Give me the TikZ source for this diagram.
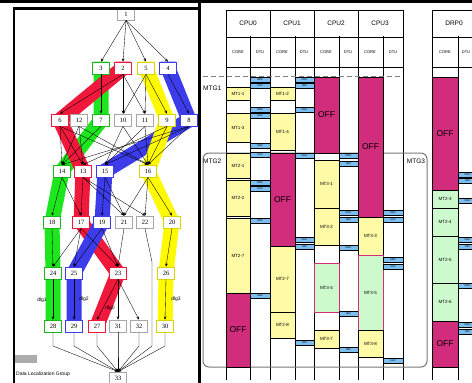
\documentclass[tikz,border=0pt]{standalone}
\usepackage{fontspec}
\setmainfont{Liberation Serif}
\newfontfamily\chartfont{Liberation Sans}
\usetikzlibrary{arrows.meta}

\definecolor{bandgreen}{RGB}{30,230,30}
\definecolor{bandred}{RGB}{240,25,60}
\definecolor{bandblue}{RGB}{60,60,235}
\definecolor{bandyellow}{RGB}{255,250,0}
\definecolor{taskyellow}{RGB}{255,250,165}
\definecolor{offpink}{RGB}{210,45,125}
\definecolor{taskgreen}{RGB}{205,250,205}
\definecolor{dtublue}{RGB}{125,190,240}
\definecolor{framegray}{RGB}{120,120,120}

\pgfdeclarelayer{bands}
\pgfsetlayers{bands,main}

\tikzset{
  gn/.style={draw=gray!70, fill=white, line width=0.7pt, minimum width=17pt,
    minimum height=12pt, inner sep=0pt, font=\fontsize{6.5}{6.5}\selectfont},
  gG/.style={gn, draw=bandgreen!80!black},
  gR/.style={gn, draw=bandred},
  gB/.style={gn, draw=bandblue},
  gY/.style={gn, draw=bandyellow!85!black},
  edge/.style={-{Stealth[length=3.2pt,width=2.6pt]}, line width=0.35pt},
  band/.style={line width=15pt, line join=round},
  lbl/.style={font=\chartfont\fontsize{5}{5}\selectfont, inner sep=0pt},
  blkbase/.style={line width=0.5pt, inner sep=0pt, outer sep=0pt},
  tY/.style={blkbase, draw=black, fill=taskyellow, font=\chartfont\fontsize{4.5}{5}\selectfont},
  tG/.style={blkbase, draw=black, fill=taskgreen, font=\chartfont\fontsize{4.5}{5}\selectfont},
  tGP/.style={blkbase, draw=offpink, line width=0.8pt, fill=taskgreen, font=\chartfont\fontsize{4.5}{5}\selectfont},
  tOff/.style={blkbase, draw=black, fill=offpink, font=\chartfont\fontsize{8.5}{9}\selectfont},
  tD/.style={blkbase, draw=black, fill=dtublue, font=\chartfont\fontsize{2.6}{3}\selectfont},
  hdr/.style={font=\chartfont\fontsize{6.5}{7}\selectfont, inner sep=0pt},
  sub/.style={font=\chartfont\fontsize{4}{4}\selectfont, inner sep=0pt},
  grid/.style={line width=0.5pt, black},
}

% a block of the schedule: name, style, x0, x1, y0, y1, text
\newcommand\blk[7]{\node[#2, minimum width={#4pt-#3pt}, minimum height={#6pt-#5pt}]
  (#1) at ({(#3+#4)/2},{(#5+#6)/2}) {#7};}
% a data-transfer block: name, x0, x1, y0, text
\newcommand\dtu[5]{\blk{#1}{tD}{#2}{#3}{#4}{#4+5.5}{#5}}

\begin{document}
\begin{tikzpicture}[x=1pt,y=-1pt]
\useasboundingbox (0,0) rectangle (472,383);
\begin{scope}
\clip (0,0) rectangle (472,383);

% ---------------- macro-task graph ----------------
\node[gn] (n1) at (126,14) {1};
\node[gG] (n3) at (101,68) {3};
\node[gR] (n2) at (123,68) {2};
\node[gY] (n5) at (146,68) {5};
\node[gB] (n4) at (168,68) {4};
\node[gR] (n6) at (60,120) {6};
\node[gn] (n12) at (79,120) {12};
\node[gG] (n7) at (101,120) {7};
\node[gn] (n10) at (123,120) {10};
\node[gn] (n11) at (145,120) {11};
\node[gY] (n9) at (167,120) {9};
\node[gB] (n8) at (189,120) {8};
\node[gG] (n14) at (62,171) {14};
\node[gR] (n13) at (83,171) {13};
\node[gB] (n15) at (105,171) {15};
\node[gY] (n16) at (148,171) {16};
\node[gG] (n18) at (52,222) {18};
\node[gR] (n17) at (81,222) {17};
\node[gB] (n19) at (102,222) {19};
\node[gn] (n21) at (124,222) {21};
\node[gn] (n22) at (145,222) {22};
\node[gY] (n20) at (172,222) {20};
\node[gG] (n24) at (53,273) {24};
\node[gB] (n25) at (74,273) {25};
\node[gR] (n23) at (118,273) {23};
\node[gY] (n26) at (166,273) {26};
\node[gG] (n28) at (53,326) {28};
\node[gB] (n29) at (74,326) {29};
\node[gR] (n27) at (97,326) {27};
\node[gn] (n31) at (118,326) {31};
\node[gn] (n32) at (139,326) {32};
\node[gY] (n30) at (165,326) {30};
\node[gn] (n33) at (118,378) {33};

% data localization groups
\begin{pgfonlayer}{bands}
\fill[white] (0,0) rectangle (472,383);
\draw[band, bandgreen] (n3.north) -- (n7.center) -- (n14.center) -- (n18.center) -- (n24.center) -- (n28.south);
\draw[band, bandred] (n2.north) -- (n2.center) -- (n6.center) -- (n13.center) -- (n17.center) -- (n23.center) -- (n27.center) -- (n27.south);
\draw[band, bandblue] (n4.north) -- (n4.center) -- (n8.center) -- (n15.center) -- (n19.center) -- (n25.center) -- (n29.south);
\draw[band, bandyellow] (n5.north) -- (n5.center) -- (n9.center) -- (n16.center) -- (n20.center) -- (n26.center) -- (n30.south);
\end{pgfonlayer}

% dependences
\foreach \s/\t in {1/3,1/2,1/5,1/4,
  3/7,2/6,2/10,2/11,5/10,5/11,5/9,4/8,
  6/14,6/13,12/14,12/13,7/14,9/13,8/14,6/16,12/16,10/15,10/16,11/15,11/16,9/16,8/16,8/15,
  14/18,14/17,13/17,13/21,13/22,15/19,15/21,16/21,16/22,16/20,
  18/24,17/24,17/25,17/23,19/25,19/23,21/23,20/26,
  24/28,25/29,23/27,23/31,23/32,26/30}
  \draw[edge] (n\s.south) -- (n\t.north);

\coordinate (k33) at (0,346);
\coordinate (k22a) at (152,262);
\foreach \s in {28,29,27,31,32,30}
  \draw[edge] (n\s.south) -- (n\s.south |- k33) -- (n33.north);
\draw[edge] (n22.south) -- (k22a) -- (k22a |- k33) -- (n33.north);

\node[lbl] (g1) at (42,300) {dlg1};
\node[lbl] (g2) at (84,299) {dlg2};
\node[lbl] (g0) at (110,308) {dlg0};
\node[lbl] (g3) at (176,299) {dlg3};

% legend
\node[fill=gray!65, minimum width=22pt, minimum height=8pt, inner sep=0pt] (key) at (26,359) {};
\node[lbl, anchor=west] (keytext) at (16,374) {Data Localization Group};

% frames
\draw[line width=3pt] (0,1.5) -- (472,1.5);
\draw[line width=2.2pt] (14,383) -- (14,8.5) -- (198,8.5);
\draw[line width=2.5pt] (199.5,0) -- (199.5,383);

% ---------------- schedule ----------------
% grid
\foreach \x in {226,250,270,295,314,339,358,383,403,432,458}
  \draw[grid] (\x,10) -- (\x,380);
\foreach \y in {10,37,67} {
  \draw[grid] (226,\y) -- (403,\y);
  \draw[grid] (432,\y) -- (472,\y);
}
\foreach \x/\y in {250/10,295/10,339/10,383/10,458/10}
  \draw[white, line width=1pt] (\x,10.6) -- (\x,36.4);

\node[hdr] (h0) at (248,23) {CPU0};
\node[hdr] (h1) at (292,23) {CPU1};
\node[hdr] (h2) at (336,23) {CPU2};
\node[hdr] (h3) at (380,23) {CPU3};
\node[hdr] (h4) at (454,23) {DRP0};
\foreach \i/\xc/\xd in {0/238/260,1/282/304,2/326/348,3/370/393,4/445/466} {
  \node[sub] (c\i) at (\xc,52) {CORE};
  \node[sub] (d\i) at (\xd,52) {DTU};
}

% macro-task groups
\draw[dashed, gray, line width=1pt, dash pattern=on 5pt off 3pt] (203,76) -- (403,76);
\node[hdr, anchor=west] (mtg1) at (203,88) {MTG1};
\draw[framegray, line width=1pt, rounded corners=6pt] (203,153) rectangle (427,367);
\node[hdr, anchor=west] (mtg2) at (203,161) {MTG2};
\node[hdr] (mtg3) at (416,161) {MTG3};

% CPU0
\blk{a1}{tY}{226}{250}{87}{100}{MT1-1}
\blk{a2}{tY}{226}{250}{113}{142}{MT1-3}
\blk{a3}{tY}{226}{250}{153}{178}{MT2-1}
\blk{a4}{tY}{226}{250}{180}{216}{MT2-2}
\blk{a5}{tY}{226}{250}{218}{293}{MT2-7}
\blk{a6}{tOff}{226}{250}{293}{367}{OFF}
\dtu{ad1}{250}{270}{77}{DMC}
\dtu{ad2}{250}{270}{83}{LMC}
\dtu{ad3}{250}{270}{107}{DMC}
\dtu{ad4}{250}{270}{113}{LMC}
\dtu{ad5}{250}{270}{143}{DMC}
\dtu{ad6}{250}{270}{152}{LMC}
\dtu{ad7}{250}{270}{180}{DMC}
\dtu{ad8}{250}{270}{186}{LMC}
\dtu{ad9}{250}{270}{218}{DMC}
\dtu{ad10}{250}{270}{293}{DMC}

% CPU1
\blk{b1}{tY}{270}{295}{87}{100}{MT1-2}
\blk{b2}{tY}{270}{295}{113}{150}{MT1-4}
\blk{b3}{tOff}{270}{295}{153}{246}{OFF}
\blk{b4}{tY}{270}{295}{246}{312}{MT2-7}
\blk{b5}{tY}{270}{295}{312}{338}{MT2-8}
\dtu{bd1}{295}{314}{77}{DMC}
\dtu{bd2}{295}{314}{83}{LMC}
\dtu{bd3}{295}{314}{107}{DMC}
\dtu{bd4}{295}{314}{153}{DMC}
\dtu{bd5}{295}{314}{237}{DMC}
\dtu{bd6}{295}{314}{244}{LMC}
\dtu{bd7}{295}{314}{340}{LMC}

% CPU2
\blk{c1}{tOff}{314}{339}{77}{153}{OFF}
\blk{c2}{tY}{314}{339}{160}{208}{MT3-1}
\blk{c3}{tY}{314}{339}{208}{245}{MT3-2}
\blk{c4}{tGP}{314}{339}{263}{312}{MT3-4}
\blk{c5}{tY}{314}{339}{330}{348}{MT3-7}
\dtu{cd1}{339}{358}{153}{DMC}
\dtu{cd2}{339}{358}{161}{LMC}
\dtu{cd3}{339}{358}{210}{DMC}
\dtu{cd4}{339}{358}{217}{LMC}
\dtu{cd5}{339}{358}{245}{DMC}
\dtu{cd6}{339}{358}{311}{LMC}
\dtu{cd7}{339}{358}{347}{LMC}

% CPU3
\blk{e1}{tOff}{358}{383}{77}{217}{OFF}
\blk{e2}{tY}{358}{383}{217}{255}{MT3-3}
\blk{e3}{tGP}{358}{383}{255}{330}{MT3-5}
\blk{e4}{tY}{358}{383}{330}{357}{MT3-8}
\dtu{ed1}{383}{403}{210}{DMC}
\dtu{ed2}{383}{403}{217}{LMC}
\dtu{ed3}{383}{403}{257}{DMC}
\dtu{ed4}{383}{403}{264}{LMC}
\dtu{ed5}{383}{403}{358}{LMC}

% DRP0
\blk{f1}{tOff}{432}{458}{77}{190}{OFF}
\blk{f2}{tG}{432}{458}{190}{208}{MT2-3}
\blk{f3}{tG}{432}{458}{208}{236}{MT2-4}
\blk{f4}{tG}{432}{458}{236}{283}{MT2-5}
\blk{f5}{tG}{432}{458}{283}{321}{MT2-6}
\blk{f6}{tOff}{432}{458}{321}{367}{OFF}
\dtu{fd1}{458}{477}{172}{DMC}
\dtu{fd2}{458}{477}{178}{LMC}
\dtu{fd3}{458}{477}{198}{DMC}
\dtu{fd4}{458}{477}{237}{DMC}
\dtu{fd5}{458}{477}{244}{LMC}
\dtu{fd6}{458}{477}{283}{DMC}
\dtu{fd7}{458}{477}{322}{DMC}
\dtu{fd8}{458}{477}{329}{LMC}
\end{scope}
\end{tikzpicture}
\end{document}
